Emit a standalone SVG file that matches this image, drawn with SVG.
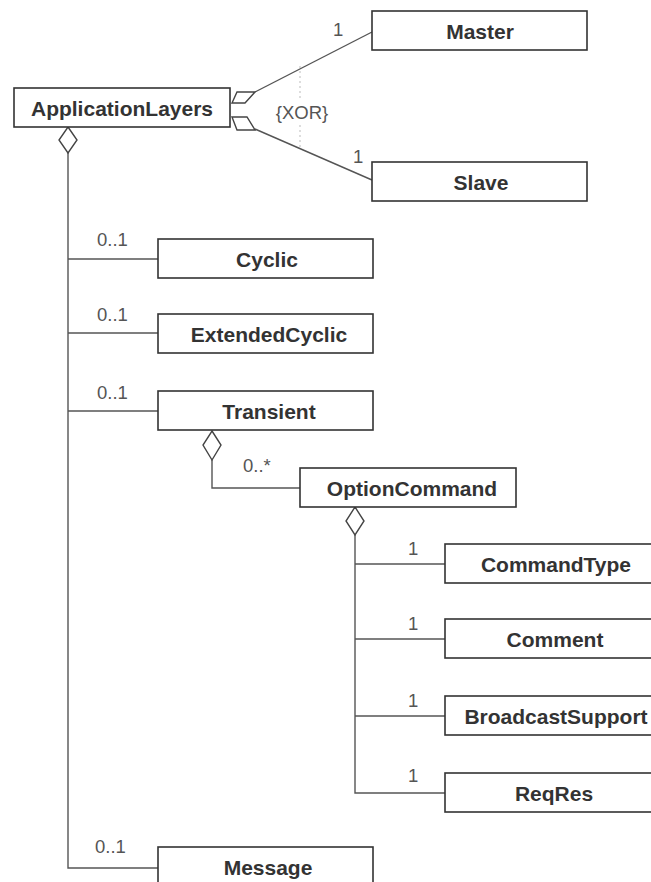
<svg xmlns="http://www.w3.org/2000/svg" width="651" height="882" viewBox="0 0 651 882">
<style>
.box{fill:#fff;stroke:#333;stroke-width:1.6}
.name{font-family:"Liberation Sans",Arial,sans-serif;font-size:21px;font-weight:bold;fill:#333;text-anchor:middle}
.mult{font-family:"Liberation Sans",Arial,sans-serif;font-size:18.5px;fill:#555}
.ln{fill:none;stroke:#555;stroke-width:1.4}
.dia{fill:#fff;stroke:#444;stroke-width:1.4}
</style>
<rect width="651" height="882" fill="#fff"/>
<g id="connectors">
  <line class="ln" x1="255" y1="92" x2="372" y2="32"/>
  <line class="ln" x1="255" y1="129" x2="372" y2="180"/>
  <polygon class="dia" points="232,103 245,103 255,92 237,92"/>
  <polygon class="dia" points="232,117 247,117 255,130 237,130"/>
  <line x1="300" y1="66" x2="300" y2="100" stroke="#bbb" stroke-width="1" stroke-dasharray="2,3"/>
  <line x1="300" y1="125" x2="300" y2="147" stroke="#bbb" stroke-width="1" stroke-dasharray="2,3"/>
  <text class="mult" x="302" y="119" text-anchor="middle" font-size="20">{XOR}</text>
  <text class="mult" x="333" y="36">1</text>
  <text class="mult" x="353" y="163">1</text>

  <polyline class="ln" points="68,153 68,868 158,868"/>
  <polygon class="dia" points="68,127 77,140 68,153 59,140"/>
  <line class="ln" x1="68" y1="259" x2="158" y2="259"/>
  <line class="ln" x1="68" y1="333" x2="158" y2="333"/>
  <line class="ln" x1="68" y1="411" x2="158" y2="411"/>
  <text class="mult" x="97" y="246">0..1</text>
  <text class="mult" x="97" y="321">0..1</text>
  <text class="mult" x="97" y="399">0..1</text>
  <text class="mult" x="95" y="853">0..1</text>

  <polyline class="ln" points="212,460 212,488 300,488"/>
  <polygon class="dia" points="212,431 221,445 212,460 203,445"/>
  <text class="mult" x="243" y="472">0..*</text>

  <polyline class="ln" points="355,535 355,793 445,793"/>
  <polygon class="dia" points="355,507 364,521 355,535 346,521"/>
  <line class="ln" x1="355" y1="564" x2="445" y2="564"/>
  <line class="ln" x1="355" y1="639" x2="445" y2="639"/>
  <line class="ln" x1="355" y1="716" x2="445" y2="716"/>
  <text class="mult" x="408" y="555">1</text>
  <text class="mult" x="408" y="630">1</text>
  <text class="mult" x="408" y="707">1</text>
  <text class="mult" x="408" y="782">1</text>
</g>
<g id="ApplicationLayers"><rect class="box" x="14" y="88" width="216" height="39"/><text class="name" x="122" y="116">ApplicationLayers</text></g>
<g id="Master"><rect class="box" x="372" y="11" width="215" height="39"/><text class="name" x="480" y="39">Master</text></g>
<g id="Slave"><rect class="box" x="372" y="162" width="215" height="39"/><text class="name" x="481" y="190">Slave</text></g>
<g id="Cyclic"><rect class="box" x="158" y="239" width="215" height="39"/><text class="name" x="267" y="267">Cyclic</text></g>
<g id="ExtendedCyclic"><rect class="box" x="158" y="314" width="215" height="39"/><text class="name" x="269" y="342">ExtendedCyclic</text></g>
<g id="Transient"><rect class="box" x="158" y="391" width="215" height="39"/><text class="name" x="269" y="419">Transient</text></g>
<g id="OptionCommand"><rect class="box" x="300" y="468" width="216" height="39"/><text class="name" x="412" y="496">OptionCommand</text></g>
<g id="CommandType"><rect class="box" x="445" y="544" width="216" height="39"/><text class="name" x="556" y="572">CommandType</text></g>
<g id="Comment"><rect class="box" x="445" y="619" width="216" height="39"/><text class="name" x="555" y="647">Comment</text></g>
<g id="BroadcastSupport"><rect class="box" x="445" y="696" width="216" height="39"/><text class="name" x="556" y="724">BroadcastSupport</text></g>
<g id="ReqRes"><rect class="box" x="445" y="773" width="216" height="39"/><text class="name" x="554" y="801">ReqRes</text></g>
<g id="Message"><rect class="box" x="158" y="847" width="215" height="39"/><text class="name" x="268" y="875">Message</text></g>
</svg>
